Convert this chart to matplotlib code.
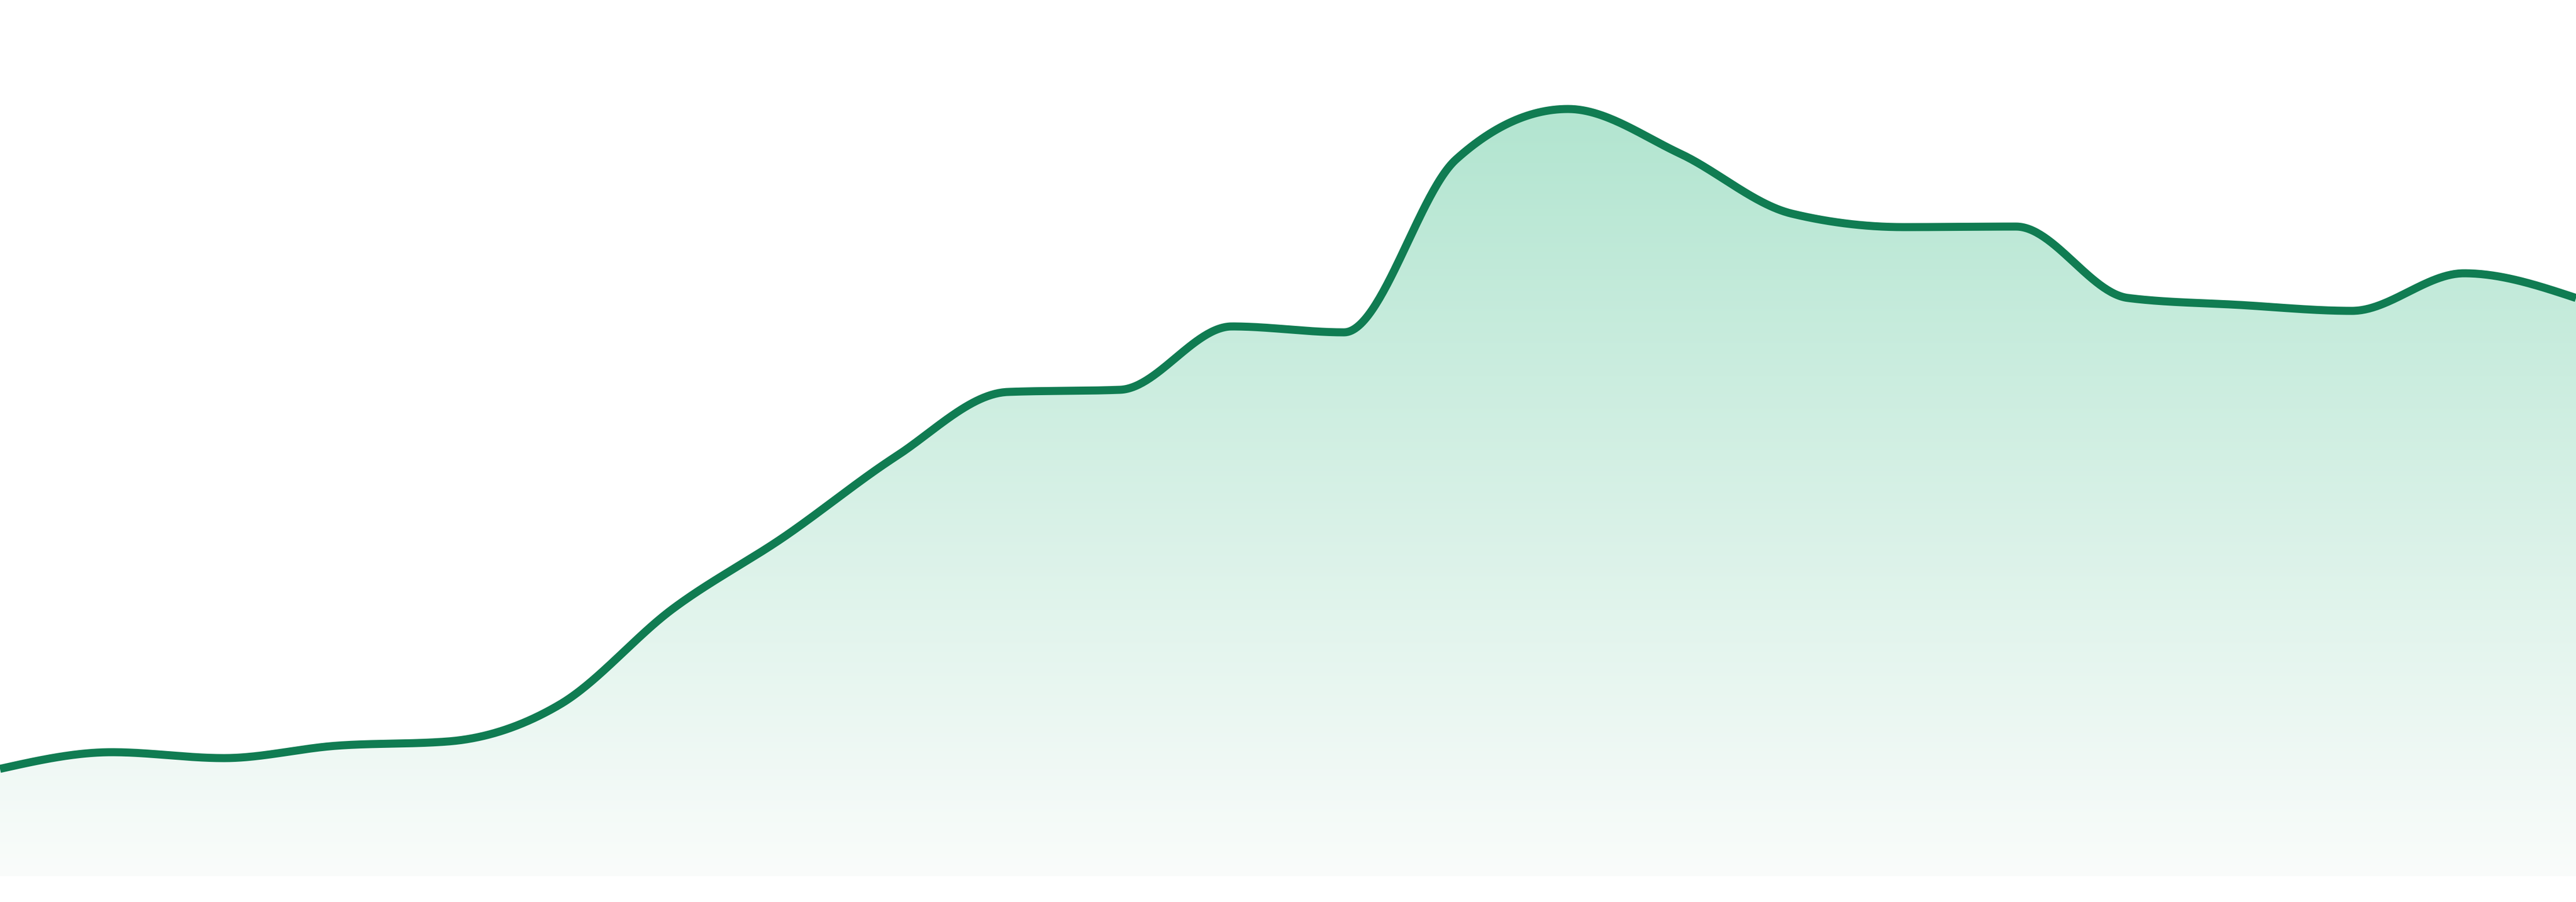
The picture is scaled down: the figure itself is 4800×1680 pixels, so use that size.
import numpy as np
import matplotlib
matplotlib.use("Agg")
import matplotlib.pyplot as plt
from matplotlib.path import Path
from matplotlib.patches import PathPatch

# ---- data ----
periods = list(range(24))
values = [20.0, 23.1, 22.0, 24.3, 25.1, 32.0, 49.7, 63.2, 78.2, 90.2, 90.6, 102.4,
          101.3, 133.5, 142.9, 134.6, 123.4, 120.9, 121.0, 107.7, 106.4, 105.3, 112.3, 107.7]

line_color = "#107C52"
fill_top_rgb = (178, 229, 208)
fill_bottom_rgb = (250, 252, 251)


def monotone_x(x, y, n=60):
    """d3.curveMonotoneX style interpolation."""
    x = np.asarray(x, float)
    y = np.asarray(y, float)
    m = len(x)
    h = np.diff(x)
    s = np.diff(y) / h
    t = np.zeros(m)
    for i in range(1, m - 1):
        h0, h1 = h[i - 1], h[i]
        s0, s1 = s[i - 1], s[i]
        p = (s0 * h1 + s1 * h0) / (h0 + h1)
        t[i] = (np.sign(s0) + np.sign(s1)) * min(abs(s0), abs(s1), 0.5 * abs(p))
    t[0] = (3 * s[0] - t[1]) / 2
    t[-1] = (3 * s[-1] - t[-2]) / 2
    xs, ys = [], []
    for i in range(m - 1):
        u = np.linspace(0, 1, n, endpoint=(i == m - 2))
        dx = h[i]
        p0 = np.array([x[i], y[i]])
        p3 = np.array([x[i + 1], y[i + 1]])
        p1 = np.array([x[i] + dx / 3, y[i] + t[i] * dx / 3])
        p2 = np.array([x[i + 1] - dx / 3, y[i + 1] - t[i + 1] * dx / 3])
        b = ((1 - u) ** 3)[:, None] * p0 + (3 * (1 - u) ** 2 * u)[:, None] * p1 \
            + (3 * (1 - u) * u ** 2)[:, None] * p2 + (u ** 3)[:, None] * p3
        xs.append(b[:, 0])
        ys.append(b[:, 1])
    return np.concatenate(xs), np.concatenate(ys)


fig = plt.figure(figsize=(16, 5.6), dpi=300)
ax = fig.add_axes([0, 0, 1, 1])
ax.set_xlim(0, len(periods) - 1)
ax.set_ylim(-4.8, 163.2)
ax.axis("off")

cx, cy = monotone_x(periods, values)

# gradient fill clipped to area under curve
vmax = max(values)
yy = np.linspace(0, 163.2, 800)
frac = np.clip(yy / vmax, 0, 1)
top = np.array(fill_top_rgb) / 255.0
bot = np.array(fill_bottom_rgb) / 255.0
grad = bot[None, :] + (top - bot)[None, :] * frac[:, None]
img = np.repeat(grad[:, None, :], 2, axis=1)
im = ax.imshow(img, extent=[0, len(periods) - 1, 0, 163.2], origin="lower",
               aspect="auto", interpolation="bilinear", zorder=1)

verts = np.column_stack([np.concatenate([cx, [cx[-1], cx[0]]]),
                         np.concatenate([cy, [0, 0]])])
clip = PathPatch(Path(verts, closed=False), facecolor="none", edgecolor="none",
                 transform=ax.transData)
ax.add_patch(clip)
im.set_clip_path(clip)

ax.plot(cx, cy, color=line_color, linewidth=3.6, solid_capstyle="butt",
        solid_joinstyle="round", zorder=3)

fig.savefig("out.png", dpi=300, facecolor="white")
